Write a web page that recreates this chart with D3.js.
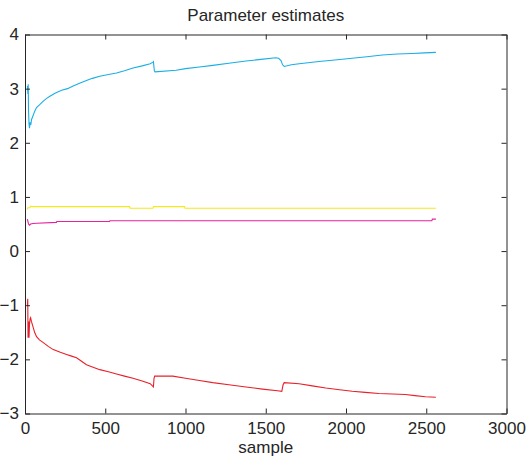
<!DOCTYPE html>
<html>
<head>
<meta charset="utf-8">
<script src="https://cdn.jsdelivr.net/npm/d3@7"></script>
<style>
  body { margin: 0; background: #fff; }
  svg text { font-family: "Liberation Sans", Arial, sans-serif; fill: #262626; }
</style>
</head>
<body>
<div id="chart"></div>
<script>
// series: [sample, estimate]
var cyanSeries = [[15,3.05],[18,2.9],[20,3.08],[22,2.6],[25,2.35],[28,2.27],[32,2.38],[36,2.33],[41,2.43],
    [50,2.5],[60,2.58],[72,2.65],[90,2.7],[114,2.77],[135,2.82],[155,2.86],[190,2.92],[228,2.97],[265,3.0],
    [300,3.05],[340,3.1],[383,3.15],[420,3.19],[466,3.23],[520,3.26],[570,3.29],[620,3.33],[673,3.38],
    [730,3.42],[780,3.46],[797,3.49],[800,3.5],[806,3.33],[810,3.31],[942,3.34],[1000,3.37],[1087,3.40],
    [1170,3.43],[1270,3.47],[1377,3.51],[1470,3.54],[1563,3.57],[1580,3.56],[1595,3.52],[1605,3.44],
    [1615,3.41],[1660,3.44],[1708,3.46],[1832,3.50],[1930,3.53],[2038,3.56],[2130,3.59],[2226,3.62],
    [2320,3.64],[2412,3.65],[2490,3.66],[2560,3.67]];

var yellowSeries = [[15,0.77],[18,0.8],[30,0.8],[35,0.83],[45,0.82],[652,0.82],[655,0.79],[797,0.79],
    [800,0.82],[994,0.82],[997,0.79],[2560,0.79]];

var magentaSeries = [[15,0.59],[18,0.55],[22,0.5],[28,0.48],[35,0.5],[50,0.51],[72,0.515],[196,0.53],
    [198,0.545],[527,0.545],[529,0.56],[2535,0.56],[2538,0.59],[2560,0.59]];

var redSeries = [[15,-1.0],[17,-0.88],[19,-1.6],[22,-1.3],[25,-1.6],[28,-1.35],[32,-1.25],[35,-1.23],
    [40,-1.3],[50,-1.4],[60,-1.5],[72,-1.58],[90,-1.64],[114,-1.69],[145,-1.76],[176,-1.82],[220,-1.87],
    [259,-1.91],[290,-1.94],[321,-1.97],[350,-2.03],[383,-2.10],[420,-2.14],[466,-2.19],[520,-2.23],[570,-2.27],
    [620,-2.31],[673,-2.35],[730,-2.40],[780,-2.45],[797,-2.50],[800,-2.51],[804,-2.35],[808,-2.31],
    [921,-2.31],[1000,-2.35],[1087,-2.39],[1170,-2.43],[1270,-2.47],[1377,-2.51],[1480,-2.55],[1573,-2.58],
    [1600,-2.59],[1608,-2.47],[1615,-2.43],[1708,-2.45],[1790,-2.49],[1874,-2.53],[1960,-2.56],[2039,-2.59],
    [2120,-2.61],[2205,-2.63],[2290,-2.64],[2371,-2.65],[2430,-2.67],[2495,-2.69],[2560,-2.70]];

var xTicks = [0, 500, 1000, 1500, 2000, 2500, 3000];
var yTicks = [-3, -2, -1, 0, 1, 2, 3, 4];

var width = 528, height = 461,
    margin = {top: 34.5, right: 21.5, bottom: 47.5, left: 25};

var svg = d3.select("#chart")
    .append("svg")
    .attr("width", width)
    .attr("height", height);

var x = d3.scaleLinear().domain([0, 3000]).range([margin.left, width - margin.right]);
var y = d3.scaleLinear().domain([-3, 4]).range([height - margin.bottom, margin.top]);

//lines
var line = d3.line()
    .x(function(d) { return x(d[0]); })
    .y(function(d) { return y(d[1]); });

var series = [
    {data: cyanSeries, color: "#1aaee6"},
    {data: yellowSeries, color: "#f5e81c"},
    {data: magentaSeries, color: "#e6229c"},
    {data: redSeries, color: "#e8202a"}
];

svg.selectAll("path.series")
    .data(series)
    .enter()
    .append("path")
    .attr("class", "series")
    .attr("d", function(d) { return line(d.data); })
    .style("fill", "none")
    .style("stroke", function(d) { return d.color; })
    .style("stroke-width", 1.1);

// axes, ticks pointing in on all four sides
function styleAxis(g) {
    g.selectAll("path, line").style("stroke", "#262626");
    g.selectAll("text").style("font-size", "17px").style("font-family", "'Liberation Sans', Arial, sans-serif").style("fill", "#262626");
}

var fmt = d3.format("d");

svg.append("g")
    .attr("transform", "translate(0," + y.range()[0] + ")")
    .call(d3.axisBottom(x).tickValues(xTicks).tickFormat(fmt).tickSizeInner(-5).tickSizeOuter(0).tickPadding(8))
    .call(styleAxis);

svg.append("g")
    .attr("transform", "translate(0," + y.range()[1] + ")")
    .call(d3.axisTop(x).tickValues(xTicks).tickSizeInner(-5).tickSizeOuter(0).tickFormat(""))
    .call(styleAxis);

svg.append("g")
    .attr("transform", "translate(" + x.range()[0] + ",0)")
    .call(d3.axisLeft(y).tickValues(yTicks).tickFormat(fmt).tickSizeInner(-5).tickSizeOuter(0).tickPadding(6))
    .call(styleAxis);

svg.append("g")
    .attr("transform", "translate(" + x.range()[1] + ",0)")
    .call(d3.axisRight(y).tickValues(yTicks).tickSizeInner(-5).tickSizeOuter(0).tickFormat(""))
    .call(styleAxis);

svg.append("text")
    .attr("x", (x.range()[0] + x.range()[1]) / 2)
    .attr("y", 21)
    .attr("text-anchor", "middle")
    .style("font-size", "17px")
    .text("Parameter estimates");

svg.append("text")
    .attr("x", (x.range()[0] + x.range()[1]) / 2)
    .attr("y", 453)
    .attr("text-anchor", "middle")
    .style("font-size", "17px")
    .text("sample");
</script>
</body>
</html>
